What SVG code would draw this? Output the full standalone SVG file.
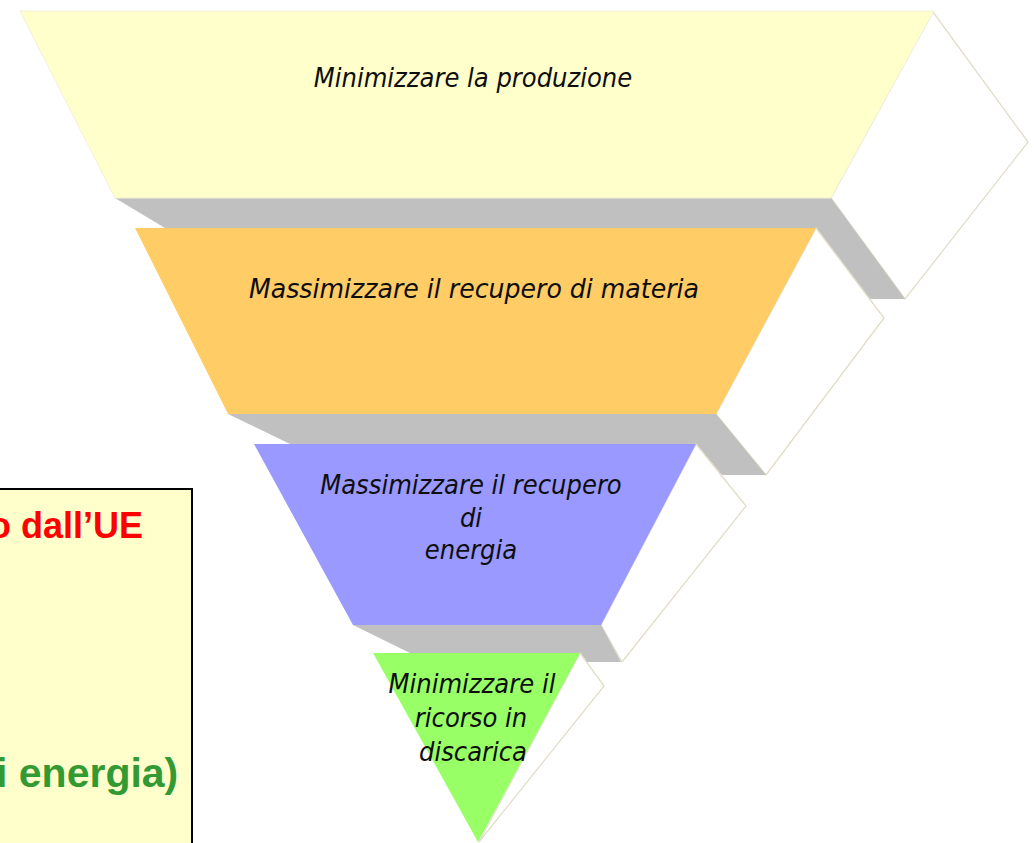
<svg xmlns="http://www.w3.org/2000/svg" width="1034" height="843" viewBox="0 0 1034 843">
<style>
.face{fill:#FFFFFF;stroke:#E2DECB;stroke-width:1.3;stroke-linejoin:round}
.band{fill:#C0C0C0}
.lbl{font-family:"DejaVu Sans Condensed","DejaVu Sans",Verdana,sans-serif;font-stretch:condensed;font-style:italic;font-size:27px;fill:#0E0E0E;text-anchor:middle}
.note{font-family:"Liberation Sans",Arial,sans-serif;font-weight:bold}
</style>
<rect x="0" y="0" width="1034" height="843" fill="#FFFFFF"/>
<g id="level1">
<polygon class="face" points="933,12 1028,142 905,299 831,198"/>
<polygon class="band" points="115,198 831,198 905,299 868,299 816,228 165,228"/>
<polygon fill="#FFFFCC" stroke="#F3F0DA" stroke-width="1" points="20,11 934,11 831,198 115,198"/>
<text class="lbl" x="473" y="87">Minimizzare la produzione</text>
</g>
<g id="level2">
<polygon class="face" points="816,228 884,318 766,475 716,414"/>
<polygon class="band" points="228,414 716,414 766,475 722,475 696,444 290,444"/>
<polygon fill="#FFCC66" points="135,228 816,228 716,414 228,414"/>
<text class="lbl" x="474" y="298" textLength="450" lengthAdjust="spacingAndGlyphs">Massimizzare il recupero di materia</text>
</g>
<g id="level3">
<polygon class="face" points="696,444 746,506 622,662 601,625"/>
<polygon class="band" points="353,625 601,625 621,662 587,662 580,653 410,653"/>
<polygon fill="#9999FF" points="254,444 696,444 601,625 353,625"/>
<text class="lbl" x="471" y="494">Massimizzare il recupero</text>
<text class="lbl" x="471" y="527">di</text>
<text class="lbl" x="471" y="559">energia</text>
</g>
<g id="level4">
<polygon class="face" points="580,653 604,686 479,842"/>
<polygon fill="#99FF66" points="373,653 580,653 478,842"/>
<text class="lbl" x="472" y="693">Minimizzare il</text>
<text class="lbl" x="471" y="727">ricorso in</text>
<text class="lbl" x="473" y="761">discarica</text>
</g>
<g id="textbox">
<rect x="-3" y="489" width="195" height="360" fill="#FFFFCC" stroke="#000000" stroke-width="2"/>
<text class="note" x="-11" y="538" font-size="36" fill="#FF0000">o dall’UE</text>
<text class="note" x="-4" y="787" font-size="41" fill="#339933">i energia)</text>
</g>
</svg>
